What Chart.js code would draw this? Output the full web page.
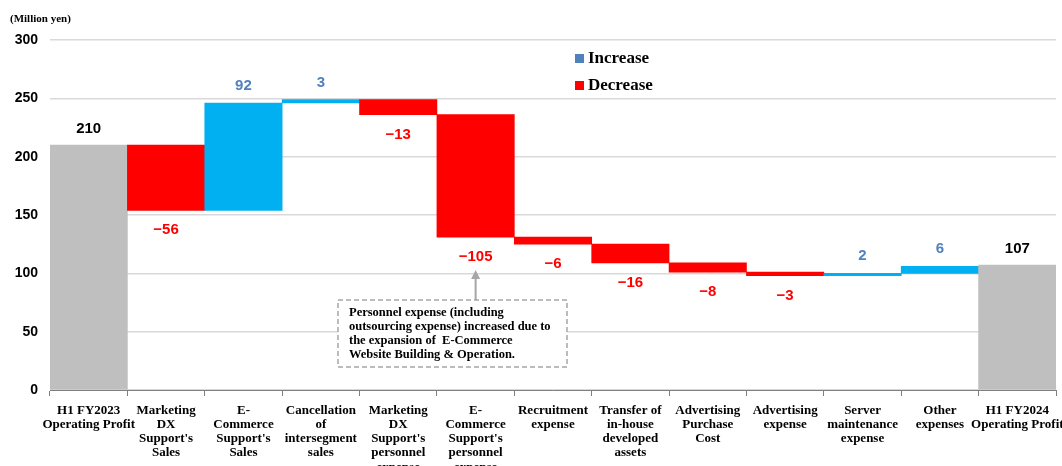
<!DOCTYPE html>
<html>
<head>
<meta charset="utf-8">
<script src="https://cdn.jsdelivr.net/npm/chart.js@4/dist/chart.umd.min.js"></script>
<style>
  html, body { margin: 0; padding: 0; background: #fff; }
  #wrap { width: 1062px; height: 466px; position: relative; }
</style>
</head>
<body>
<div id="wrap"><canvas id="grafica"></canvas></div>
<script>
const categorias = [
  ["H1 FY2023", "Operating Profit"],
  ["Marketing", "DX", "Support's", "Sales"],
  ["E-", "Commerce", "Support's", "Sales"],
  ["Cancellation", "of", "intersegment", "sales"],
  ["Marketing", "DX", "Support's", "personnel", "expense"],
  ["E-", "Commerce", "Support's", "personnel", "expense"],
  ["Recruitment", "expense"],
  ["Transfer of", "in-house", "developed", "assets"],
  ["Advertising", "Purchase", "Cost"],
  ["Advertising", "expense"],
  ["Server", "maintenance", "expense"],
  ["Other", "expenses"],
  ["H1 FY2024", "Operating Profit"]
];
const inicio = 210;
const variaciones = [-56, 92, 3, -13, -105, -6, -16, -8, -3, 2, 6];
const fin = 107;
const ticksY = [0, 50, 100, 150, 200, 250, 300];

const notaTexto = [
  "Personnel expense (including",
  "outsourcing expense) increased due to",
  "the expansion of  E-Commerce",
  "Website Building & Operation."
];

const GRIS = "#BFBFBF", ROJO = "#FF0000", AZUL = "#00B0F0", AZUL_TXT = "#4F81BD";
const SERIF = "'Liberation Serif', 'Times New Roman', serif";
const SANS = "'Liberation Sans', Arial, sans-serif";

// construir tramos flotantes
let acumulado = inicio;
const tramos = [[0, inicio]];
const colores = [GRIS];
const tipos = ["total"];
variaciones.forEach(v => {
  const desde = acumulado;
  acumulado += v;
  tramos.push([Math.min(desde, acumulado), Math.max(desde, acumulado)]);
  colores.push(v >= 0 ? AZUL : ROJO);
  tipos.push(v >= 0 ? "sube" : "baja");
});
tramos.push([0, fin]);
colores.push(GRIS);
tipos.push("total");
const etiquetas = [inicio, ...variaciones, fin];

const etiquetasPlugin = {
  id: "etiquetas",
  afterDatasetsDraw(chart) {
    const ctx = chart.ctx;
    const meta = chart.getDatasetMeta(0);
    ctx.save();
    ctx.textAlign = "center";
    ctx.textBaseline = "middle";
    ctx.font = "bold 15px " + SANS;
    meta.data.forEach((bar, i) => {
      const y = chart.scales.y;
      const top = y.getPixelForValue(tramos[i][1]);
      const bottom = y.getPixelForValue(tramos[i][0]);
      const txt = String(etiquetas[i]).replace("-", "\u2212");
      if (tipos[i] === "total") {
        ctx.fillStyle = "#000";
        ctx.fillText(txt, bar.x, top - 16);
      } else if (tipos[i] === "sube") {
        ctx.fillStyle = AZUL_TXT;
        ctx.fillText(txt, bar.x, top - 17);
      } else {
        ctx.fillStyle = ROJO;
        ctx.fillText(txt, bar.x, bottom + 20);
      }
    });
    ctx.restore();
  },
  afterDraw(chart) {
    const ctx = chart.ctx;
    ctx.save();
    // unidad
    ctx.font = "bold 11px " + SERIF;
    ctx.fillStyle = "#000";
    ctx.textBaseline = "middle";
    ctx.textAlign = "left";
    ctx.fillText("(Million yen)", 10, 19);

    // leyenda
    ctx.font = "bold 17px " + SERIF;
    ctx.fillStyle = AZUL_TXT;
    ctx.fillRect(575, 54, 9, 9);
    ctx.fillStyle = ROJO;
    ctx.fillRect(575, 81, 9, 9);
    ctx.fillStyle = "#000";
    ctx.fillText("Increase", 588, 59);
    ctx.fillText("Decrease", 588, 86);

    // nota con flecha
    const xFlecha = chart.scales.x.getPixelForValue(5);
    const bx = 338, by = 300, bw = 229, bh = 67;
    ctx.fillStyle = "#fff";
    ctx.fillRect(bx, by, bw, bh);
    ctx.setLineDash([5, 3]);
    ctx.strokeStyle = "#A6A6A6";
    ctx.lineWidth = 1.5;
    ctx.strokeRect(bx, by, bw, bh);
    ctx.setLineDash([]);
    ctx.lineWidth = 2;
    ctx.beginPath();
    ctx.moveTo(xFlecha, by);
    ctx.lineTo(xFlecha, 277);
    ctx.stroke();
    ctx.fillStyle = "#A6A6A6";
    ctx.beginPath();
    ctx.moveTo(xFlecha, 270);
    ctx.lineTo(xFlecha - 4.5, 279);
    ctx.lineTo(xFlecha + 4.5, 279);
    ctx.closePath();
    ctx.fill();
    ctx.fillStyle = "#000";
    ctx.font = "bold 12.5px " + SERIF;
    notaTexto.forEach((t, i) => ctx.fillText(t, bx + 11, by + 13 + i * 14));
    ctx.restore();
  }
};

new Chart(document.getElementById("grafica").getContext("2d"), {
  type: "bar",
  data: {
    labels: categorias,
    datasets: [{
      data: tramos,
      backgroundColor: colores,
      borderWidth: 0,
      barPercentage: 1,
      categoryPercentage: 1
    }]
  },
  options: {
    responsive: true,
    maintainAspectRatio: false,
    animation: false,
    layout: { padding: { top: 40, right: 6, left: 0, bottom: 0 } },
    plugins: {
      legend: { display: false },
      tooltip: { enabled: false }
    },
    scales: {
      x: {
        afterFit: s => { s.height = 76; s.paddingLeft = 0; s.paddingRight = 0; },
        grid: { offset: true, drawOnChartArea: false, tickLength: 6, color: "#7F7F7F" },
        border: { color: "#7F7F7F", width: 1 },
        ticks: {
          autoSkip: false,
          maxRotation: 0,
          padding: 7,
          color: "#000",
          font: { family: SERIF, weight: "bold", size: 13, lineHeight: 1.1 }
        }
      },
      y: {
        min: 0,
        max: 300,
        afterFit: s => { s.width = 50; },
        afterBuildTicks: s => { s.ticks = ticksY.map(v => ({ value: v })); },
        grid: { color: "#D9D9D9", lineWidth: 1.5, drawTicks: false },
        border: { display: false },
        ticks: {
          padding: 12,
          color: "#000",
          font: { family: SANS, weight: "bold", size: 14 }
        }
      }
    }
  },
  plugins: [etiquetasPlugin]
});
</script>
</body>
</html>
